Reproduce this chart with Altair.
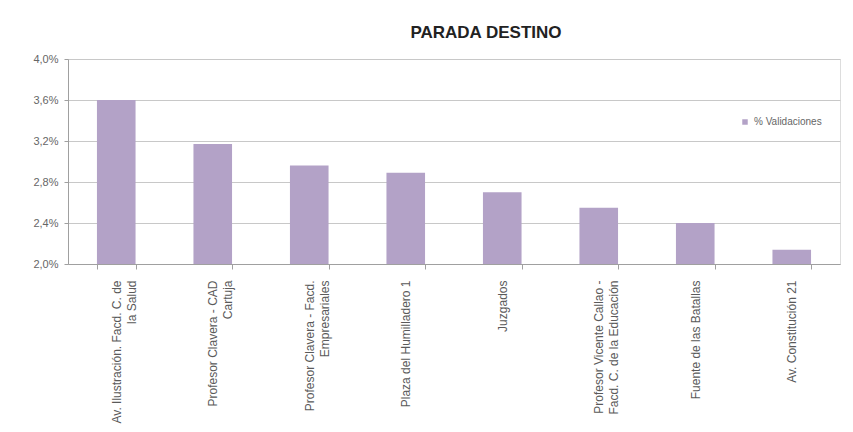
import altair as alt
import pandas as pd

categories = [
    "Av. Ilustración. Facd. C. de\nla Salud",
    "Profesor Clavera - CAD\nCartuja",
    "Profesor Clavera - Facd.\nEmpresariales",
    "Plaza del Humilladero 1",
    "Juzgados",
    "Profesor Vicente Callao -\nFacd. C. de la Educación",
    "Fuente de las Batallas",
    "Av. Constitución 21",
]
values = [0.0360, 0.0317, 0.0296, 0.0289, 0.0270, 0.0255, 0.0240, 0.0214]
series = ["% Validaciones"] * len(categories)

df = pd.DataFrame({"parada": categories, "valor": values, "serie": series})

FONT = "Liberation Sans"
PURPLE = "#B3A2C7"

bars = alt.Chart(df).mark_bar(color=PURPLE).encode(
    x=alt.X(
        "parada:N",
        sort=None,
        title=None,
        scale=alt.Scale(paddingInner=0.6, paddingOuter=0.3),
        axis=alt.Axis(
            labelAngle=-90,
            labelAlign="right",
            labelBaseline="middle",
            labelExpr="split(datum.label, '\\n')",
            labelFont=FONT,
            labelFontSize=12,
            labelColor="#5a5a5a",
            labelLineHeight=15,
            labelPadding=11,
            labelLimit=400,
            tickBand="extent",
            tickSize=5,
            tickColor="#a0a0a0",
            domainColor="#a0a0a0",
            grid=False,
        ),
    ),
    y=alt.Y(
        "valor:Q",
        title=None,
        scale=alt.Scale(domain=[0.02, 0.04], zero=False, nice=False),
        axis=alt.Axis(
            values=[0.020, 0.024, 0.028, 0.032, 0.036, 0.040],
            labelExpr="replace(format(datum.value, '.1%'), '.', ',')",
            labelFont=FONT,
            labelFontSize=11,
            labelColor="#666666",
            labelPadding=6,
            tickSize=4,
            tickColor="#a0a0a0",
            domainColor="#a0a0a0",
            gridColor="#c8c8c8",
            gridWidth=1.2,
        ),
    ),
    y2=alt.datum(0.02),
    fill=alt.Fill(
        "serie:N",
        title=None,
        scale=alt.Scale(range=[PURPLE]),
        legend=alt.Legend(
            orient="none",
            legendX=672,
            legendY=58,
            symbolType="square",
            symbolSize=30,
            labelFont=FONT,
            labelFontSize=10,
            labelColor="#666666",
        ),
    ),
)

chart = bars.properties(
    width=772,
    height=205,
    autosize=alt.AutoSizeParams(type="none"),
    padding={"left": 60, "top": 51, "right": 5, "bottom": 170},
    title=alt.TitleParams(
        "PARADA DESTINO",
        font=FONT,
        fontSize=17,
        fontWeight="bold",
        color="#222222",
        anchor="middle",
        dx=32,
        offset=11,
    ),
).configure_view(stroke=None).configure(background="white")

chart.save("out.html", embed_options={"renderer": "svg", "actions": False})
